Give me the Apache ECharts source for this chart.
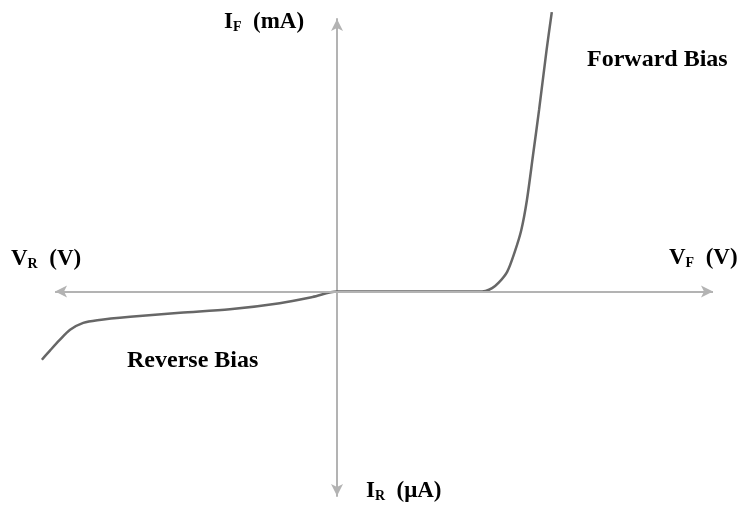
<!DOCTYPE html>
<html>
<head>
<meta charset="utf-8">
<style>
  html, body { margin: 0; padding: 0; background: #fff; }
  #chart { width: 738px; height: 510px; }
</style>
<script src="https://cdn.jsdelivr.net/npm/echarts@6/dist/echarts.min.js"></script>
</head>
<body>
<div id="chart"></div>
<script>
// Diode I-V characteristic (schematic units)
const voltage = [-3.14, -3.05, -2.95, -2.84, -2.70, -2.55, -2.20, -1.67, -1.14, -0.61, -0.26, 0, 0.8, 1.50, 1.58, 1.65, 1.72, 1.81, 1.89, 1.96, 2.02, 2.085, 2.15, 2.23, 2.285];
const current = [-1.00, -0.86, -0.71, -0.56, -0.46, -0.42, -0.37, -0.31, -0.26, -0.17, -0.08, 0, 0, 0, 0.01, 0.05, 0.13, 0.29, 0.58, 0.90, 1.34, 2.00, 2.67, 3.55, 4.10];
// ends of the drawn voltage axis
const vAxisEnds = [-3, 4];

const axisColor = '#b3b3b3';
const curveColor = '#676767';
const textColor = '#222';
const serif = '"Liberation Serif", "DejaVu Serif", serif';

const chart = echarts.init(document.getElementById('chart'));

const mainStyle = { fontFamily: serif, fontWeight: 'bold', fontSize: 23, color: textColor };
const subStyle = { fontFamily: serif, fontWeight: 'bold', fontSize: 14, color: textColor, padding: [10, 0, 0, 0] };

function axisLabel(x, y, sym, sub, unit) {
  return {
    type: 'text', left: x, top: y,
    style: {
      text: '{m|' + sym + '}{s|' + sub + '}{m|  ' + unit + '}',
      rich: { m: mainStyle, s: subStyle }
    }
  };
}

chart.setOption({
  animation: false,
  grid: { left: 40, right: 25, top: 19, bottom: 14 },
  xAxis: {
    type: 'value', min: -3.16, max: 4,
    axisLine: { show: false },
    axisTick: { show: false }, axisLabel: { show: false }, splitLine: { show: false }
  },
  yAxis: {
    type: 'value', min: -3, max: 4,
    axisLine: { onZero: true, symbol: ['arrow', 'arrow'], symbolSize: [9, 12],
      lineStyle: { color: axisColor, width: 2 } },
    axisTick: { show: false }, axisLabel: { show: false }, splitLine: { show: false }
  },
  series: [{
    type: 'line',
    data: voltage.map((v, i) => [v, current[i]]),
    smooth: 0.3,
    showSymbol: false,
    clip: false,
    z: 3,
    lineStyle: { color: curveColor, width: 2.5 },
    markLine: {
      silent: true,
      symbol: ['arrow', 'arrow'],
      symbolSize: [9, 12],
      label: { show: false },
      lineStyle: { color: axisColor, width: 2, type: 'solid' },
      emphasis: { disabled: true },
      data: [[{ coord: [vAxisEnds[0], 0] }, { coord: [vAxisEnds[1], 0] }]]
    }
  }],
  graphic: [
    axisLabel(224, 11, 'I', 'F', '(mA)'),
    axisLabel(11, 248, 'V', 'R', '(V)'),
    axisLabel(669, 247, 'V', 'F', '(V)'),
    axisLabel(366, 480, 'I', 'R', '(μA)'),
    { type: 'text', left: 587, top: 48, style: { text: 'Forward Bias', ...mainStyle, fontSize: 24 } },
    { type: 'text', left: 127, top: 349, style: { text: 'Reverse Bias', ...mainStyle, fontSize: 24 } }
  ]
});
</script>
</body>
</html>
